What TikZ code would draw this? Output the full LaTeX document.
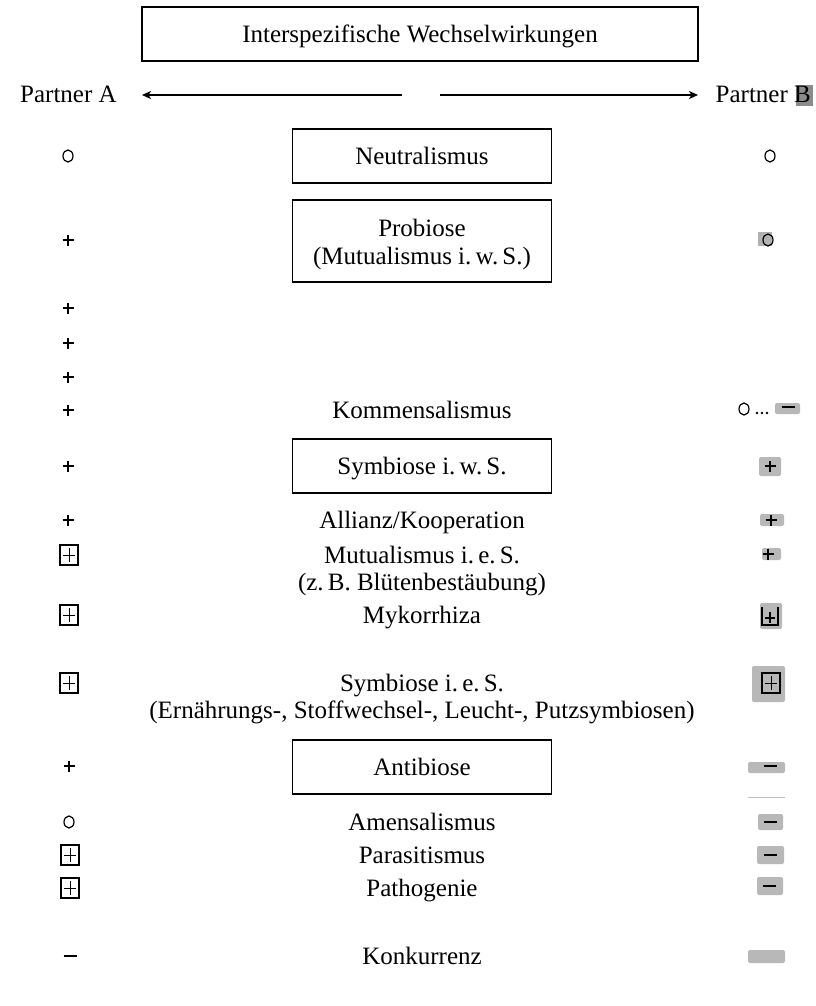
\documentclass[tikz,border=0pt]{standalone}
\usepackage{fontspec}
\setmainfont{Liberation Serif}
\usetikzlibrary{arrows.meta}
\begin{document}
\begin{tikzpicture}[x=1pt,y=-1pt,
  txt/.style={font=\fontsize{25}{28}\selectfont, inner sep=0pt, anchor=base},
  frame/.style={draw, line width=1.6pt, minimum width=259pt, minimum height=54pt, inner sep=0pt,
                font=\fontsize{25}{28}\selectfont, align=center, text height=17pt, text depth=0pt},
  patch/.style={fill=black!28, rounded corners=2pt},
  arr/.style={line width=1.4pt, -{Stealth[length=9pt,width=8pt,inset=2.5pt]}},
  lsym/.style={line width=1.2pt},
  rsym/.style={line width=2.2pt},
  symplus/.pic={\draw (-5.5,0) -- (5.5,0) (0,-5.5) -- (0,5.5);},
  symminus/.pic={\draw (-6.5,0) -- (6.5,0);},
  symcirc/.pic={\draw (0,0) ellipse[x radius=5pt, y radius=6pt];},
  symbox/.pic={\draw (-9,-10) rectangle (9,10); \draw[line width=1pt] (-6,0) -- (6,0) (0,-7) -- (0,7);},
  symcup/.pic={\draw (-8,-9) -- (-8,9) -- (8,9) -- (8,-9); \draw[line width=1.4pt] (-5,2) -- (5,2) (0,-4) -- (0,7);}
]
\useasboundingbox (0,0) rectangle (815,1006);

% header
\node[frame, minimum width=556pt] (title) at (420,34) {Interspezifische Wechselwirkungen};
\node[txt, anchor=base west] (pA) at (20,103) {Partner A};
\fill[black!45] (796,85) rectangle (813,106);
\node[txt, anchor=base east] (pB) at (811,103) {Partner B};
\coordinate (aLs) at (402,95); \coordinate (aLe) at (142,95);
\coordinate (aRs) at (440,95); \coordinate (aRe) at (698,95);
\draw[arr] (aLs) -- (aLe);
\draw[arr] (aRs) -- (aRe);

% centre column
\node[frame] (neutral) at (422,156) {Neutralismus};
\node[draw, line width=1.6pt, minimum width=259pt, minimum height=82pt] (probbox) at (422,241) {};
\node[txt] (prob1) at (422,236) {Probiose};
\node[txt] (prob2) at (422,264) {(Mutualismus i.\,w.\,S.)};
\node[txt] (komm) at (422,418) {Kommensalismus};
\node[frame] (symws) at (422,466) {Symbiose i.\,w.\,S.};
\node[txt] (allianz) at (422,528) {Allianz/Kooperation};
\node[txt] (mutes) at (422,563) {Mutualismus i.\,e.\,S.};
\node[txt] (bluete) at (422,590) {(z.\,B. Blütenbestäubung)};
\node[txt] (myko) at (422,623) {Mykorrhiza};
\node[txt] (symes) at (422,691) {Symbiose i.\,e.\,S.};
\node[txt] (ernaehr) at (422,718) {(Ernährungs-, Stoffwechsel-, Leucht-, Putzsymbiosen)};
\node[frame] (antib) at (422,767) {Antibiose};
\node[txt] (amens) at (422,830) {Amensalismus};
\node[txt] (parasit) at (422,863) {Parasitismus};
\node[txt] (pathog) at (422,896) {Pathogenie};
\node[txt] (konk) at (422,964) {Konkurrenz};

% partner A column
\pic[lsym] at (68,156) {symcirc};
\pic[lsym] at (68,240) {symplus};
\pic[lsym] at (68,308) {symplus};
\pic[lsym] at (68,343) {symplus};
\pic[lsym] at (68,377) {symplus};
\pic[lsym] at (68,410) {symplus};
\pic[lsym] at (68,466) {symplus};
\pic[lsym] at (68,520) {symplus};
\pic[line width=1.5pt] at (69,555) {symbox};
\pic[line width=1.5pt] at (69,615) {symbox};
\pic[line width=1.5pt] at (69,683) {symbox};
\pic[lsym] at (69,766) {symplus};
\pic[lsym] at (69,822) {symcirc};
\pic[line width=1.5pt] at (70,855) {symbox};
\pic[line width=1.5pt] at (70,888) {symbox};
\pic[line width=1.5pt] at (70,956) {symminus};

% partner B column
\pic[lsym] at (770,156) {symcirc};
\fill[black!30] (758,232) rectangle (772,246);
\pic[lsym] at (768,240) {symcirc};
% Kommensalismus: o ... -
\pic[lsym] at (744,409) {symcirc};
\fill (757,413) circle (1.3pt) (762,413) circle (1.3pt) (767,413) circle (1.3pt);
\fill[patch] (775,403) rectangle (800,414);
\pic[rsym] at (788,407) {symminus};
% Symbiose i. w. S.
\fill[patch] (759,457) rectangle (781,476);
\pic[rsym] at (770,466) {symplus};
% Allianz
\fill[patch] (760,514) rectangle (784,526);
\pic[rsym] at (771,520) {symplus};
% Mutualismus
\fill[patch] (762,548) rectangle (781,560);
\pic[rsym] at (768,554) {symplus};
% Mykorrhiza
\fill[patch] (760,603) rectangle (782,629);
\pic[line width=2pt] at (770,616) {symcup};
% Symbiose i. e. S.
\fill[patch] (752,666) rectangle (785,702);
\pic[line width=2pt] at (771,683) {symbox};
% Antibiose
\fill[patch] (748,762) rectangle (785,773);
\pic[rsym] at (770,766) {symminus};
\draw[black!25, line width=1pt] (748,797) -- (785,797);
% Amensalismus, Parasitismus, Pathogenie
\fill[patch] (758,814) rectangle (783,830);
\pic[rsym] at (770,822) {symminus};
\fill[patch] (757,846) rectangle (784,864);
\pic[rsym] at (770,855) {symminus};
\fill[patch] (757,877) rectangle (783,895);
\pic[rsym] at (769,886) {symminus};
% Konkurrenz
\fill[patch] (748,950) rectangle (785,963);
\end{tikzpicture}
\end{document}
